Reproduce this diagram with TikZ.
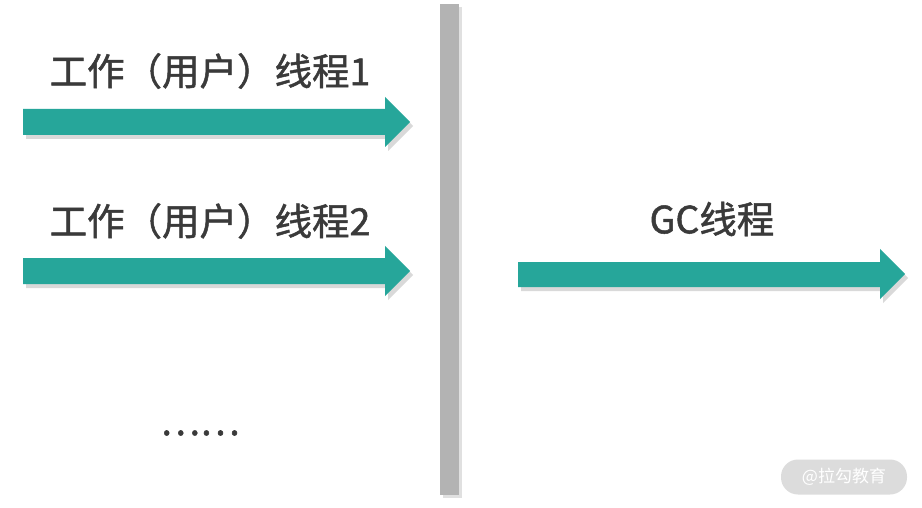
\documentclass[tikz,border=0pt]{standalone}
\usepackage{fontspec}
\setmainfont{Noto Sans CJK SC}
\newfontfamily\cjk{Noto Sans CJK SC}
\newfontfamily\cjkb{Noto Sans CJK SC}[FakeBold=1.3]
\usetikzlibrary{shadows}
\definecolor{teal1}{HTML}{26A69A}
\definecolor{txt}{HTML}{3A3A3A}
\definecolor{bar}{HTML}{B3B3B3}
\definecolor{wm}{HTML}{DCDCDC}
\begin{document}
\begin{tikzpicture}[x=1pt,y=-1pt,
  arrowshape/.style={fill=teal1, draw=none, drop shadow={shadow xshift=3pt, shadow yshift=-4pt, fill=black, opacity=0.15}},
  barshape/.style={fill=bar, draw=none, drop shadow={shadow xshift=3pt, shadow yshift=-3pt, fill=black, opacity=0.12}},
  lbl/.style={text=txt, font=\cjkb\fontsize{37.5}{40}\selectfont, inner sep=0pt},
  wmark/.style={fill=wm, rounded corners=17pt, text=white, font=\cjk\fontsize{17}{20}\selectfont, minimum width=126pt, minimum height=35pt, inner sep=0pt}]
\useasboundingbox (0,0) rectangle (922,508);
\fill[white] (0,0) rectangle (922,508);
% vertical barrier
\path[barshape] (440,4) rectangle (459,495);
% arrows
\path[arrowshape] (23,109) -- (385,109) -- (385,97) -- (410,122) -- (385,147) -- (385,135) -- (23,135) -- cycle;
\path[arrowshape] (23,258) -- (385,258) -- (385,246) -- (410,271) -- (385,296) -- (385,284) -- (23,284) -- cycle;
\path[arrowshape] (518,262) -- (880,262) -- (880,249) -- (905,274) -- (880,299) -- (880,287) -- (518,287) -- cycle;
% labels
\node[lbl] (t1) at (210,71) {工作（用户）线程1};
\node[lbl] (t2) at (210,221) {工作（用户）线程2};
\node[lbl] (gc) at (712,219) {GC线程};
\node[lbl] (dots) at (200,433) {……};
\node[wmark] (wm) at (844,477) {@拉勾教育};
\end{tikzpicture}
\end{document}
